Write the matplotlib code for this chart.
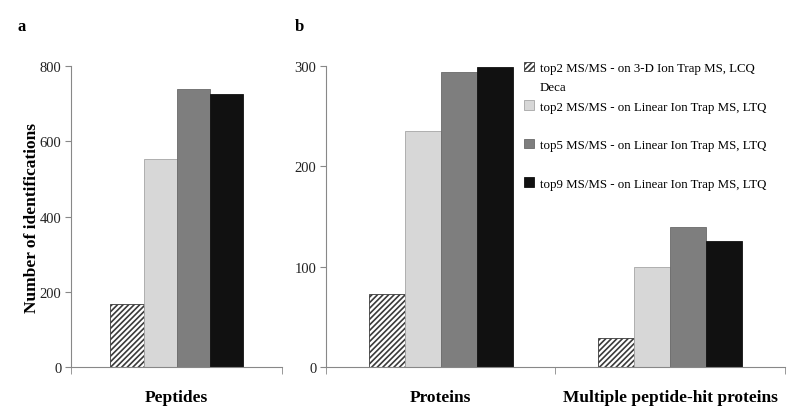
import numpy as np
import matplotlib
matplotlib.use('Agg')
import matplotlib.pyplot as plt

#-----------------------------------------------------------------------------#
#Data.
#-----------------------------------------------------------------------------#
series=['top2 MS/MS - on 3-D Ion Trap MS, LCQ',
        'top2 MS/MS - on Linear Ion Trap MS, LTQ',
        'top5 MS/MS - on Linear Ion Trap MS, LTQ',
        'top9 MS/MS - on Linear Ion Trap MS, LTQ']
cats_a=['Peptides']
vals_a=[[167],[553],[738],[725]]
cats_b=['Proteins','Multiple peptide-hit proteins']
vals_b=[[73,29],[235,100],[294,140],[299,126]]
yticks_a=[0,200,400,600,800]
yticks_b=[0,100,200,300]

faces=['white','#d7d7d7','#7e7e7e','#111111']
edges=['#3a3a3a','#a5a5a5','#6a6a6a','#111111']
hatches=['//////',None,None,None]

plt.rcParams['font.family']=['Liberation Serif','DejaVu Serif']
plt.rcParams['hatch.linewidth']=1.2
plt.rcParams['hatch.color']='#3a3a3a'

fig=plt.figure(figsize=(8,4.1),dpi=100)
ax1=fig.add_axes([0.089,0.1024,0.2635,0.7342])
ax2=fig.add_axes([0.4075,0.1024,0.5735,0.7342])
w=0.157

def panel(ax,cats,vals,ticks):
    x=np.arange(len(cats))
    for i in range(len(series)):
        ax.bar(x+(i-1.5)*w,vals[i],w,color=faces[i],edgecolor=edges[i],
               hatch=hatches[i],linewidth=0.6,label=series[i])
    ax.set_xlim(-0.5,len(cats)-0.5)
    ax.set_ylim(0,ticks[-1])
    ax.set_yticks(ticks)
    ax.set_xticks(x)
    ax.set_xticklabels(cats,fontsize=12.5,fontweight='bold')
    ax.set_xticks(np.arange(len(cats)+1)-0.5,minor=True)
    ax.tick_params(axis='x',which='major',length=0,pad=16)
    ax.tick_params(axis='x',which='minor',length=5,color='#888888',direction='out')
    ax.tick_params(axis='y',length=4,color='#888888',labelsize=10.5,pad=3,
                   labelcolor='#222222')
    for s in ['top','right']:
        ax.spines[s].set_visible(False)
    for s in ['left','bottom']:
        ax.spines[s].set_color('#888888')
        ax.spines[s].set_linewidth(0.8)

panel(ax1,cats_a,vals_a,yticks_a)
panel(ax2,cats_b,vals_b,yticks_b)
ax1.set_ylabel('Number of identifications',fontsize=12.5,fontweight='bold',labelpad=0)

fig.text(0.022,0.935,'a',fontsize=12,fontweight='bold',va='center')
fig.text(0.368,0.935,'b',fontsize=12,fontweight='bold',va='center')

leg=ax2.legend(loc='upper left',bbox_to_anchor=(524/800,1-63/410),
               bbox_transform=fig.transFigure,frameon=False,fontsize=9.3,
               handlelength=0.75,handleheight=0.75,handletextpad=0.45,
               labelspacing=2.03,borderpad=0,borderaxespad=0)
fig.canvas.draw()
r=fig.canvas.get_renderer()
bb=leg.get_texts()[0].get_window_extent(r)
fig.text(bb.x0/fig.bbox.width,((bb.y0+bb.y1)/2-19)/fig.bbox.height,'Deca',
         fontsize=9.3,va='center',ha='left')

fig.savefig('out.png',dpi=100)
